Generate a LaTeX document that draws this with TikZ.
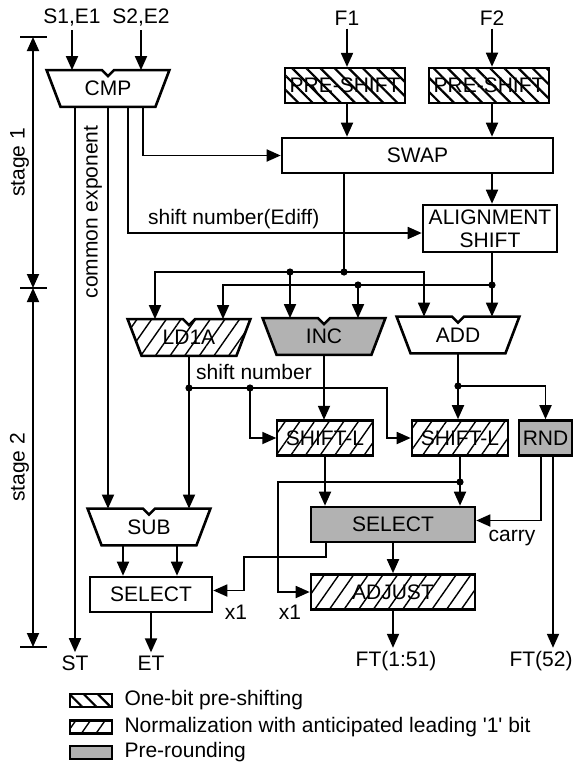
\documentclass[tikz,border=0pt]{standalone}
\usepackage{fontspec}
\setmainfont{Liberation Sans}
\usetikzlibrary{arrows.meta,positioning,calc,patterns.meta,backgrounds}
\tikzset{
  unit/.style={draw=black, line width=1.3pt, minimum height=17.5pt, inner sep=0pt, align=center},
  alu/.style={minimum width=61pt, minimum height=18pt, inner sep=0pt},
  aluline/.style={draw=black, line width=1.3pt, line join=miter},
  preshift/.style={pattern={Lines[angle=-45,distance=5pt,line width=1.1pt]}},
  norm/.style={pattern={Lines[angle=55,distance=6pt,line width=0.7pt]}},
  preround/.style={fill=black!30},
  plain/.style={fill=white},
  flow/.style={draw=black, line width=0.9pt, -{Triangle[length=7pt,width=6pt]}},
  wire/.style={draw=black, line width=0.9pt},
  dot/.style={circle, fill=black, inner sep=0pt, minimum size=3.6pt},
  lbl/.style={inner sep=1.5pt},
  swatch/.style={draw=black, line width=1.1pt, minimum width=21pt, minimum height=6.5pt, inner sep=0pt}
}
\begin{document}
\begin{tikzpicture}[x=0.5pt, y=-0.5pt, font=\fontsize{10.5}{11.5}\selectfont]
  \useasboundingbox (0,0) rectangle (574,766);

  % inputs
  \node[lbl] (s1) at (72,18) {S1,E1};
  \node[lbl] (s2) at (141,18) {S2,E2};
  \node[lbl] (f1) at (347,18) {F1};
  \node[lbl] (f2) at (492,18) {F2};

  % stage 1
  \node[alu] (cmp) at (108,88.5) {CMP};
  \node[unit, preshift, minimum width=60pt] (pre1) at (345,85.5) {PRE-SHIFT};
  \node[unit, preshift, minimum width=60pt] (pre2) at (489,85.5) {PRE-SHIFT};
  \node[unit, minimum width=135.5pt] (swap) at (417.5,155.5) {SWAP};
  \node[unit, minimum width=67pt, minimum height=23.5pt] (align) at (490,228.5) {ALIGNMENT\\SHIFT};

  % stage 2
  \node[alu] (ld) at (189,337.5) {LD1A};
  \node[alu] (inc) at (324,336.5) {INC};
  \node[alu] (add) at (458,335) {ADD};
  \node[unit, norm, minimum width=48pt] (shl1) at (325,438) {SHIFT-L};
  \node[unit, norm, minimum width=48pt] (shl2) at (460,438) {SHIFT-L};
  \node[unit, preround, minimum width=26.5pt] (rnd) at (545.5,438) {RND};
  \node[unit, preround, minimum width=82pt] (sel) at (393,524.5) {SELECT};
  \node[unit, norm, minimum width=82pt] (adj) at (393,592) {ADJUST};
  \node[alu] (sub) at (149,527) {SUB};
  \node[unit, minimum width=61pt] (lsel) at (151,594.5) {SELECT};

  % outputs
  \node[lbl] (st) at (75,663) {ST};
  \node[lbl] (et) at (151,663) {ET};
  \node[lbl] (ft1) at (396,661) {FT(1:51)};
  \node[lbl] (ft2) at (541,661) {FT(52)};

  \begin{scope}[on background layer]
    \foreach \n/\s in {cmp/plain, ld/norm, inc/preround, add/plain, sub/plain}
      \draw[aluline, \s] (\n.north west) -- ($(\n.north)+(-6,0)$) -- ($(\n.north)+(0,6)$)
        -- ($(\n.north)+(6,0)$) -- (\n.north east) -- ($(\n.south east)+(-14,0)$)
        -- ($(\n.south west)+(14,0)$) -- cycle;
  \end{scope}

  % ALU inputs
  \coordinate (ld1) at ($(ld.north)+(-34,0)$);
  \coordinate (ld2) at ($(ld.north)+(34,0)$);
  \coordinate (inc1) at ($(inc.north)+(-34,0)$);
  \coordinate (inc2) at ($(inc.north)+(34,0)$);
  \coordinate (add1) at ($(add.north)+(-34,0)$);
  \coordinate (add2) at ($(add.north)+(34,0)$);

  \draw[flow] (s1) -- (s1 |- cmp.north);
  \draw[flow] (s2) -- (s2 |- cmp.north);
  \draw[flow] (f1) -- (f1 |- pre1.north);
  \draw[flow] (f2) -- (f2 |- pre2.north);
  \draw[flow] (pre1.south -| f1) -- (swap.north -| f1);
  \draw[flow] (pre2.south -| f2) -- (swap.north -| f2);
  \draw[flow] (swap.south -| f2) -- (align.north -| f2);

  % CMP outputs
  \draw[flow] (cmp.south -| st) -- (st);
  \draw[flow] (cmp.south) -- (cmp.south |- sub.north);
  \draw[flow] ($(cmp.south)+(20,0)$) |- node[lbl, pos=0.68, above] (ediff) {shift number(Ediff)} ($(align.west)+(0,4.5)$);
  \draw[flow] ($(cmp.south)+(35,0)$) |- (swap.west);
  \node[lbl, rotate=90] (ce) at (93,212) {common exponent};

  % operand buses
  \coordinate (b1) at (344,272);
  \coordinate (b2) at (492,285);
  \draw[wire] (swap.south -| b1) -- (b1);
  \draw[wire] (align.south -| b2) -- (b2);
  \draw[flow] (b1) -| (ld1);
  \draw[flow] (b1) -| (add1);
  \draw[flow] (b1 -| inc1) -- (inc1);
  \draw[flow] (b2) -- (add2);
  \draw[flow] (b2) -| (ld2);
  \draw[flow] (b2 -| inc2) -- (inc2);

  % LD1A shift number
  \coordinate (d1) at (189,388);
  \coordinate (d2) at (250,388);
  \coordinate (k1) at (387,388);
  \draw[flow] (ld.south) -- (ld.south |- sub.north);
  \draw[flow] (d1) -- (k1) |- (shl2.west);
  \draw[flow] (d2) |- (shl1.west);
  \node[lbl] (sn) at (254,372) {shift number};

  % INC / ADD outputs
  \coordinate (d3) at (458,386);
  \draw[flow] (inc.south) -- (inc.south |- shl1.north);
  \draw[flow] (add.south) -- (add.south |- shl2.north);
  \draw[flow] (d3) -| (rnd.north);

  % SHIFT-L outputs
  \coordinate (d4) at (460,482);
  \coordinate (k2) at (278,482);
  \draw[flow] (shl1.south) -- (shl1.south |- sel.north);
  \draw[flow] (shl2.south) -- (shl2.south |- sel.north);
  \draw[flow] (d4) -- (k2) |- (adj.west);

  % RND outputs
  \draw[flow] ($(rnd.south)+(-4.5,0)$) |- ($(sel.east)+(0,-4)$);
  \node[lbl] (cy) at (512,538) {carry};
  \draw[flow] ($(rnd.south)+(7.5,0)$) coordinate (r2) -- (r2 |- ft2.north);

  % SELECT / ADJUST
  \coordinate (k3) at (244,557);
  \draw[flow] (sel.south) -- (adj.north);
  \draw[flow] (adj.south) -- (adj.south |- ft1.north);
  \draw[flow] ($(sel.south)+(-67,0)$) |- (k3) |- ($(lsel.east)+(0,-4)$);
  \node[lbl] (x1a) at (236,612) {x1};
  \node[lbl] (x1b) at (290,612) {x1};

  % SUB / exponent SELECT
  \draw[flow] ($(sub.south)+(-26,0)$) coordinate (o1) -- (o1 |- lsel.north);
  \draw[flow] ($(sub.south)+(28,0)$) coordinate (o2) -- (o2 |- lsel.north);
  \draw[flow] (lsel.south) -- (lsel.south |- et.north);

  % junctions
  \foreach \p [count=\i] in {b1, b2, b1 -| inc1, b2 -| inc2, d1, d2, d3, d4}
    \node[dot] (j\i) at (\p) {};

  % stages
  \coordinate (t0) at (33,37);
  \coordinate (t1) at (33,288);
  \coordinate (t2) at (33,647);
  \draw[wire, {Triangle[length=7pt,width=6pt]}-{Triangle[length=7pt,width=6pt]}] (t1) -- node[lbl, midway, rotate=90, anchor=south] (stg1) {stage 1} (t0);
  \draw[wire, {Triangle[length=7pt,width=6pt]}-{Triangle[length=7pt,width=6pt]}] (t2) -- node[lbl, midway, rotate=90, anchor=south] (stg2) {stage 2} (t1);
  \foreach \t in {t0,t1,t2}
    \draw[wire] ($(\t)+(-13,0)$) -- ($(\t)+(14,0)$);

  % legend
  \node[swatch, preshift] (lg1) at (91,700.5) {};
  \node[swatch, norm] (lg2) at (91,727) {};
  \node[swatch, preround] (lg3) at (91,752.5) {};
  \node[lbl, right=4pt of lg1] (lt1) {One-bit pre-shifting};
  \node[lbl, right=4pt of lg2] (lt2) {Normalization with anticipated leading \textquotesingle 1\textquotesingle\ bit};
  \node[lbl, right=4pt of lg3] (lt3) {Pre-rounding};
\end{tikzpicture}
\end{document}
